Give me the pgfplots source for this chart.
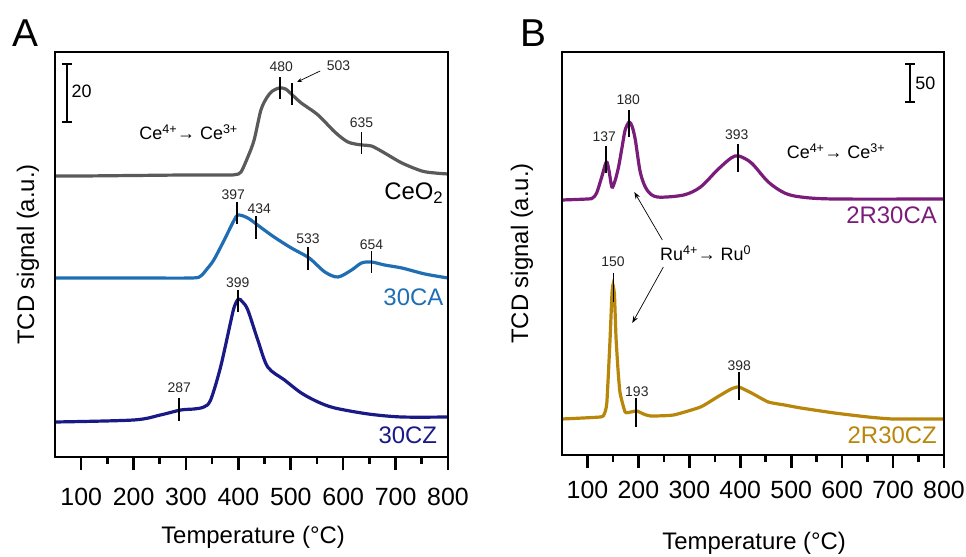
\documentclass[border=0pt]{standalone}
\usepackage{fontspec}
\setmainfont{Liberation Sans}
\usepackage{pgfplots}
\pgfplotsset{compat=1.18}
\usetikzlibrary{arrows.meta}
\definecolor{cceo}{HTML}{5A5A5A}
\definecolor{cca}{HTML}{1F6EB4}
\definecolor{ccz}{HTML}{1A1A87}
\definecolor{rca}{HTML}{7A1C7A}
\definecolor{rcz}{HTML}{B8860B}

\pgfplotsset{
  every axis/.append style={line width=2.8bp},
  every tick/.append style={line width=2.6bp, black},
  tpr/.style={
    scale only axis, xmin=50, xmax=800, ymin=0,
    clip mode=individual,
    ytick=\empty, xtick={100,200,...,800}, minor xtick={150,250,...,750},
    tick align=outside, xtick pos=bottom,
    axis line style={line width=2.8bp},
    major tick style={black, line width=2.6bp}, minor tick style={black, line width=2.6bp},
    major tick length=13bp, minor tick length=7bp,
    /pgf/number format/assume math mode=true,
    /pgf/number format/1000 sep={},
    tick label style={font=\fontsize{25}{28}\selectfont},
    label style={font=\fontsize{24}{28}\selectfont},
    xlabel={Temperature (°C)}, ylabel={TCD signal (a.u.)},
  },
  crv/.style={line width=3.2bp, no marks, smooth, tension=0.5},
  pk/.style={black, line width=1.8bp, no marks, forget plot},
}
\tikzset{
  num/.style={font=\fontsize{14}{16}\selectfont, text=black!85},
  ser/.style={font=\fontsize{24}{28}\selectfont, anchor=east},
  frm/.style={line width=2.8bp, black},
}

\begin{document}
\begin{tikzpicture}
\path[use as bounding box] (0,0) rectangle (966bp,557bp);

% ---------- A ----------
\begin{axis}[tpr, at={(55bp,100bp)}, anchor=south west,
  width=393bp, height=405bp, ymax=405,
  xlabel style={at={(axis description cs:0.504,-0.1975)}, anchor=center},
  ylabel style={at={(axis description cs:-0.069,0.5)}, anchor=center},
  xticklabel style={anchor=center, yshift=-27bp}]
\addplot[crv, cceo] coordinates {
 (50,281)(100,281)(200,281.5)(300,282)(380,282)(395,282.5)(405,285)(418,300)
 (430,317)(443,347)(455,360)(465,366)(478,369)(490,368)(503,362)(520,354)
 (552,342)(584,325)(609,315)(635,312)(654,311)(679,304)(712,294)(750,286)
 (775,284)(800,283)};
\addplot[crv, cca] coordinates {
 (50,179)(200,179)(310,179)(328,181)(340,188)(353,197)(373,217)(392,237)(400,242)
 (418,239)(439,231)(468,220)(501,209)(535,199)(565,185)(590,180)(616,187)
 (635,194)(654,195)(679,192)(712,189)(756,183)(800,179)};
\addplot[crv, ccz] coordinates {
 (50,35)(200,37)(251,42)(290,47)(315,48)(334,50)(347,57)(366,90)(386,137)
 (392,150)(400,158)(408,155)(418,147)(437,117)(456,90)(488,77)(520,64)
 (552,55)(584,49)(648,43)(712,40)(800,40)};
% peak markers
\addplot[pk] coordinates {(480,358)(480,380)};
\addplot[pk] coordinates {(503,352)(503,374)};
\addplot[pk] coordinates {(635,303)(635,325)};
\addplot[pk] coordinates {(397,233)(397,255)};
\addplot[pk] coordinates {(434,218)(434,241)};
\addplot[pk] coordinates {(533,187)(533,210)};
\addplot[pk] coordinates {(654,184)(654,206)};
\addplot[pk] coordinates {(287,36)(287,59)};
\addplot[pk] coordinates {(399,145)(399,167)};
\node[num] at (axis cs:482,390) {480};
\node[num] at (axis cs:591,391) {503};
\draw[-{Stealth[length=5bp,width=4bp]}, line width=0.7bp] (axis cs:556,386) -- (axis cs:512,375);
\node[num] at (axis cs:635,334) {635};
\node[num] at (axis cs:390,262) {397};
\node[num] at (axis cs:440,248) {434};
\node[num] at (axis cs:533,218) {533};
\node[num] at (axis cs:654,212) {654};
\node[num] at (axis cs:287,69) {287};
\node[num] at (axis cs:399,174) {399};
% scale bar
\draw[line width=2bp] (axis cs:73,335) -- (axis cs:73,393);
\draw[line width=2bp] (axis cs:63,393) -- (axis cs:83,393);
\draw[line width=2bp] (axis cs:63,335) -- (axis cs:83,335);
\node[font=\fontsize{18}{20}\selectfont, anchor=west, inner sep=0pt] at (axis cs:79,366) {20};
\node[font=\fontsize{18}{20}\selectfont] at (axis cs:305,325) {Ce\textsuperscript{4+}→ Ce\textsuperscript{3+}};
\node[ser, text=black] at (axis cs:800,264) {CeO\textsubscript{2}};
\node[ser, text=cca] at (axis cs:800,160) {30CA};
\node[ser, text=ccz] at (axis cs:788,22) {30CZ};
\draw[frm] (rel axis cs:0,0) rectangle (rel axis cs:1,1);
\end{axis}
\node[font=\fontsize{39}{42}\selectfont] at (25bp,524bp) {A};

% ---------- B ----------
\begin{axis}[tpr, at={(562bp,102bp)}, anchor=south west,
  width=382bp, height=403bp, ymax=403,
  xlabel style={at={(axis description cs:0.503,-0.218)}, anchor=center},
  ylabel style={at={(axis description cs:-0.105,0.5)}, anchor=center},
  xticklabel style={anchor=center, yshift=-22bp}]
\addplot[crv, rca] coordinates {
 (50,255)(100,256)(110,257)(118,262)(128,278)(137,293)(142,285)(148,268)
 (154,274)(161,288)(168,308)(174,325)(182,333)(188,328)(194,315)(204,282)
 (217,265)(237,258)(289,260)(322,268)(355,285)(382,297)(397,299)(422,292)
 (455,273)(487,262)(519,258)(585,256)(800,256)};
\addplot[crv, rcz, tension=0.3] coordinates {
 (50,36)(125,38)(133,41)(138,52)(144,112)(148,160)(150,170)(153,160)(156,118)
 (160,85)(164,62)(174,43)(185,43)(197,44)(210,41)(224,39)(269,40)(322,48)
 (355,58)(382,66)(397,68)(422,62)(455,53)(487,50)(519,47)(585,42)(651,38)
 (700,36)(800,36)};
\addplot[pk] coordinates {(137,282)(137,309)};
\addplot[pk] coordinates {(182,318)(182,345)};
\addplot[pk] coordinates {(396,283)(396,311)};
\addplot[pk] coordinates {(151,153)(151,182)};
\addplot[pk] coordinates {(196,28)(196,57)};
\addplot[pk] coordinates {(397,55)(397,83)};
\node[num] at (axis cs:133,318) {137};
\node[num] at (axis cs:180,355) {180};
\node[num] at (axis cs:393,320) {393};
\node[num] at (axis cs:150,193) {150};
\node[num] at (axis cs:197,63) {193};
\node[num] at (axis cs:398,89) {398};
\draw[line width=2bp] (axis cs:734,353) -- (axis cs:734,391);
\draw[line width=2bp] (axis cs:724,391) -- (axis cs:744,391);
\draw[line width=2bp] (axis cs:724,353) -- (axis cs:744,353);
\node[font=\fontsize{18}{20}\selectfont, anchor=west, inner sep=0pt] at (axis cs:741,372) {50};
\node[font=\fontsize{18}{20}\selectfont] at (axis cs:588,304) {Ce\textsuperscript{4+}→ Ce\textsuperscript{3+}};
\node[font=\fontsize{18}{20}\selectfont] at (axis cs:332,202) {Ru\textsuperscript{4+}→ Ru\textsuperscript{0}};
\draw[-{Stealth[length=7bp,width=5bp]}, line width=0.7bp] (axis cs:247,215) -- (axis cs:192,263);
\draw[-{Stealth[length=7bp,width=5bp]}, line width=0.7bp] (axis cs:249,188) -- (axis cs:188,132);
\node[ser, text=rca] at (axis cs:795,240) {2R30CA};
\node[ser, text=rcz] at (axis cs:795,20) {2R30CZ};
\draw[frm] (rel axis cs:0,0) rectangle (rel axis cs:1,1);
\end{axis}
\node[font=\fontsize{39}{42}\selectfont] at (533bp,524bp) {B};
\end{tikzpicture}
\end{document}
